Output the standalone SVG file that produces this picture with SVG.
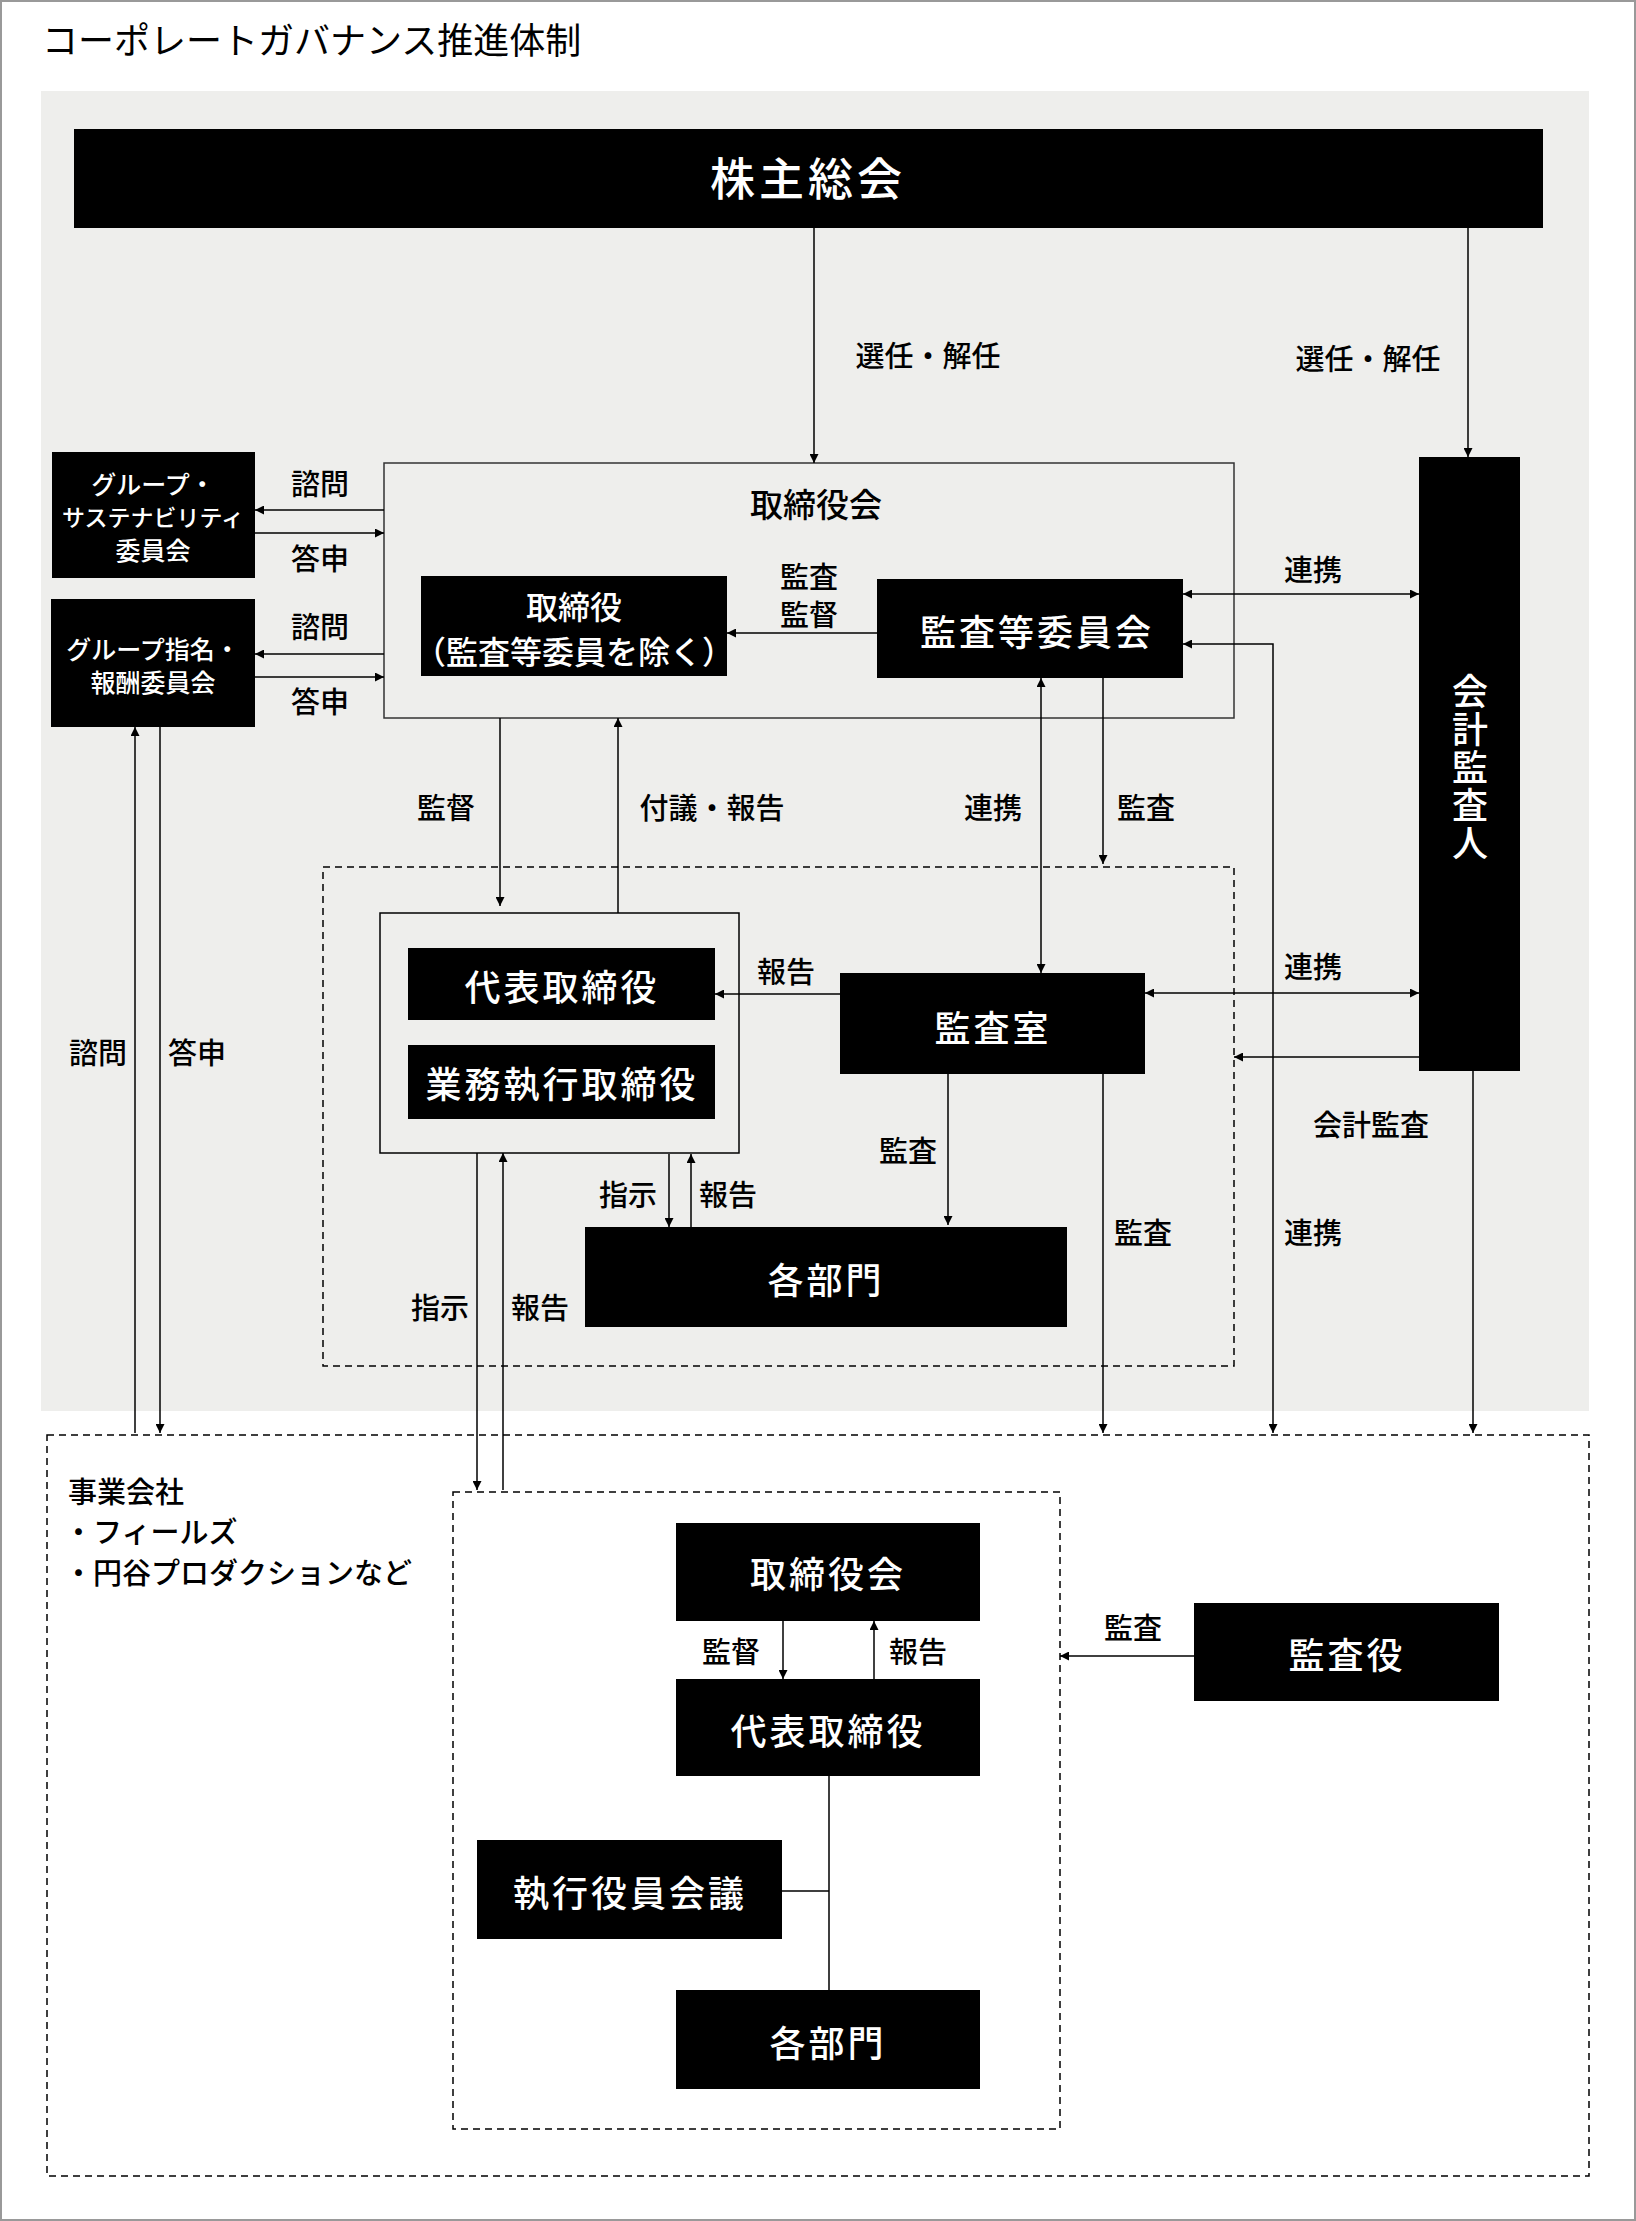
<svg xmlns="http://www.w3.org/2000/svg" width="1636" height="2221" viewBox="0 0 1636 2221">
<defs>
<marker id="ah" viewBox="0 0 10 10" refX="10" refY="5" markerWidth="9" markerHeight="9" markerUnits="userSpaceOnUse" orient="auto-start-reverse"><path d="M0,0L10,5L0,10z" fill="#000"/></marker>
</defs>
<style>
text{font-family:"Noto Sans CJK JP","Noto Sans",sans-serif;fill:#000}
.b{fill:#000}
.w{fill:#fff;text-anchor:middle;dominant-baseline:central;font-weight:500}
.m{font-size:36px;letter-spacing:3px}
.s{font-size:25px}
.l{font-size:29px;text-anchor:middle;dominant-baseline:central;font-weight:500}
.c{stroke:#000;stroke-width:1.5;fill:none}
.a{marker-end:url(#ah)}
.d{marker-end:url(#ah);marker-start:url(#ah)}
.dash{fill:none;stroke:#000;stroke-width:1.5;stroke-dasharray:7,5}
</style>
<rect x="0" y="0" width="1636" height="2221" fill="#fff"/>
<rect x="1" y="1" width="1634" height="2219" fill="none" stroke="#999" stroke-width="2"/>
<text x="42" y="54" font-size="36" fill="#333">コーポレートガバナンス推進体制</text>
<rect x="41" y="91" width="1548" height="1320" fill="#eeeeec"/>
<g id="n_kabu"><rect class="b" x="74" y="129" width="1469" height="99"/><text class="w" x="808" y="176" font-size="45" letter-spacing="4">株主総会</text></g>
<g id="n_board"><rect x="384" y="463" width="850" height="255" fill="none" stroke="#333" stroke-width="1.5"/><text class="l" x="816" y="503" style="font-size:33px">取締役会</text></g>
<g id="n_dir"><rect class="b" x="421" y="576" width="306" height="100"/><text class="w" font-size="32" x="574" y="605">取締役</text><text class="w" font-size="32" x="574" y="650">（監査等委員を除く）</text></g>
<g id="n_audcom"><rect class="b" x="877" y="579" width="306" height="99"/><text class="w m" x="1037" y="630">監査等委員会</text></g>
<g id="n_sus"><rect class="b" x="52" y="452" width="203" height="126"/><text class="w s" x="153" y="483">グループ・</text><text class="w" font-size="23" x="153" y="516">サステナビリティ</text><text class="w s" x="153" y="549">委員会</text></g>
<g id="n_nom"><rect class="b" x="51" y="599" width="204" height="128"/><text class="w s" x="153" y="648">グループ指名・</text><text class="w s" x="153" y="681">報酬委員会</text></g>
<g id="n_acct"><rect class="b" x="1419" y="457" width="101" height="614"/><text class="w" x="1470" y="768" font-size="36" letter-spacing="2" style="writing-mode:vertical-rl;text-anchor:middle;dominant-baseline:auto">会計監査人</text></g>
<rect class="dash" x="323" y="867" width="911" height="499"/>
<g id="n_exec"><rect x="380" y="913" width="359" height="240" fill="none" stroke="#000" stroke-width="1.5"/>
<rect class="b" x="408" y="948" width="307" height="72"/><text class="w m" x="562" y="985">代表取締役</text>
<rect class="b" x="408" y="1045" width="307" height="74"/><text class="w m" x="562" y="1082">業務執行取締役</text></g>
<g id="n_audoff"><rect class="b" x="840" y="973" width="305" height="101"/><text class="w m" x="993" y="1026">監査室</text></g>
<g id="n_dept"><rect class="b" x="585" y="1227" width="482" height="100"/><text class="w m" x="826" y="1278">各部門</text></g>
<rect class="dash" x="47" y="1435" width="1542" height="741"/>
<g id="n_sub"><text x="68" y="1503" font-size="29" font-weight="500">事業会社</text><text x="64" y="1543" font-size="29" font-weight="500">・フィールズ</text><text x="64" y="1584" font-size="29" font-weight="500">・円谷プロダクションなど</text></g>
<rect class="dash" x="453" y="1492" width="607" height="637"/>
<g id="n_sboard"><rect class="b" x="676" y="1523" width="304" height="98"/><text class="w m" x="828" y="1572">取締役会</text></g>
<g id="n_srep"><rect class="b" x="676" y="1679" width="304" height="97"/><text class="w m" x="828" y="1729">代表取締役</text></g>
<g id="n_sexec"><rect class="b" x="477" y="1840" width="305" height="99"/><text class="w m" x="630" y="1891">執行役員会議</text></g>
<g id="n_sdept"><rect class="b" x="676" y="1990" width="304" height="99"/><text class="w m" x="828" y="2041">各部門</text></g>
<g id="n_saud"><rect class="b" x="1194" y="1603" width="305" height="98"/><text class="w m" x="1347" y="1653">監査役</text></g>
<g id="connectors">
<path class="c a" d="M814,228V463"/>
<path class="c a" d="M1468,228V457"/>
<path class="c a" d="M877,633H727"/>
<path class="c a" d="M384,510H255"/>
<path class="c a" d="M255,533H384"/>
<path class="c a" d="M384,654H255"/>
<path class="c a" d="M255,677H384"/>
<path class="c d" d="M1183,594H1419"/>
<path class="c d" d="M1183,644H1273V1433"/>
<path class="c a" d="M500,718V906"/>
<path class="c a" d="M618,913V718"/>
<path class="c d" d="M1041,678V973"/>
<path class="c a" d="M1103,678V864"/>
<path class="c a" d="M840,994H715"/>
<path class="c d" d="M1145,993H1419"/>
<path class="c a" d="M1419,1057H1234"/>
<path class="c a" d="M1473,1071V1433"/>
<path class="c a" d="M948,1074V1225"/>
<path class="c a" d="M1103,1074V1433"/>
<path class="c a" d="M669,1154V1227"/>
<path class="c a" d="M691,1227V1154"/>
<path class="c a" d="M477,1153V1490"/>
<path class="c a" d="M503,1490V1153"/>
<path class="c a" d="M135,1433V727"/>
<path class="c a" d="M160,727V1433"/>
<path class="c a" d="M783,1621V1679"/>
<path class="c a" d="M874,1679V1621"/>
<path class="c" d="M829,1776V1990M782,1891H829"/>
<path class="c a" d="M1194,1656H1060"/>
</g>
<g id="labels">
<text class="l" x="928" y="354">選任・解任</text>
<text class="l" x="1368" y="357">選任・解任</text>
<text class="l" x="809" y="575">監査</text><text class="l" x="809" y="613">監督</text>
<text class="l" x="320" y="482">諮問</text><text class="l" x="320" y="557">答申</text>
<text class="l" x="320" y="625">諮問</text><text class="l" x="320" y="700">答申</text>
<text class="l" x="1313" y="568">連携</text>
<text class="l" x="1313" y="1231">連携</text>
<text class="l" x="446" y="806">監督</text>
<text class="l" x="712" y="806">付議・報告</text>
<text class="l" x="993" y="806">連携</text>
<text class="l" x="1146" y="806">監査</text>
<text class="l" x="786" y="970">報告</text>
<text class="l" x="1313" y="965">連携</text>
<text class="l" x="1371" y="1123">会計監査</text>
<text class="l" x="908" y="1149">監査</text>
<text class="l" x="1143" y="1231">監査</text>
<text class="l" x="628" y="1193">指示</text><text class="l" x="728" y="1193">報告</text>
<text class="l" x="440" y="1306">指示</text><text class="l" x="540" y="1306">報告</text>
<text class="l" x="98" y="1051">諮問</text><text class="l" x="197" y="1051">答申</text>
<text class="l" x="731" y="1650">監督</text><text class="l" x="918" y="1650">報告</text>
<text class="l" x="1133" y="1626">監査</text>
</g>
</svg>
